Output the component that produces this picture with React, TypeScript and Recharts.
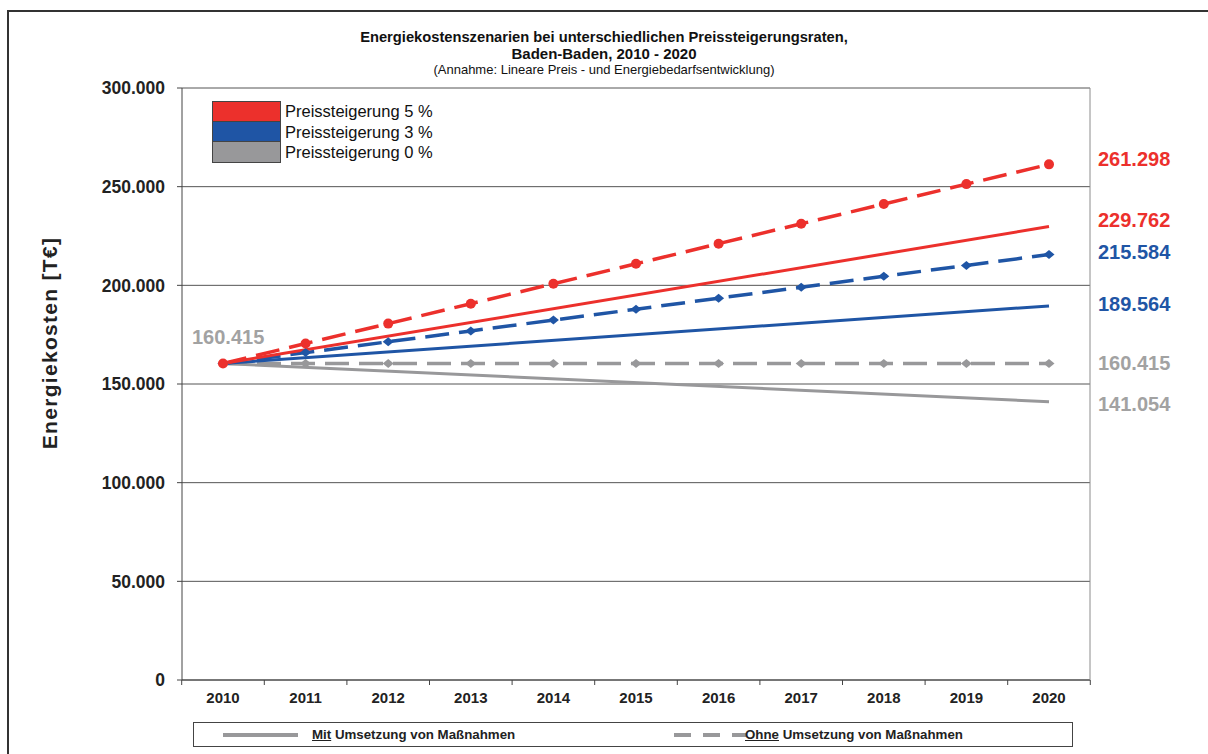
import { CartesianGrid, Line, LineChart, XAxis, YAxis } from "recharts";

const years = ["2010", "2011", "2012", "2013", "2014", "2015", "2016", "2017", "2018", "2019", "2020"];

// "Ohne Umsetzung von Maßnahmen" (dashed, with markers)
const ohne5 = [160415, 170500, 180600, 190700, 200800, 210900, 221100, 231200, 241200, 251300, 261298];
const ohne3 = [160415, 165900, 171400, 176900, 182400, 187900, 193500, 199000, 204600, 210100, 215584];
const ohne0 = [160415, 160415, 160415, 160415, 160415, 160415, 160415, 160415, 160415, 160415, 160415];

// "Mit Umsetzung von Maßnahmen" (solid, straight from start to end)
const mit5 = [160415, null, null, null, null, null, null, null, null, null, 229762];
const mit3 = [160415, null, null, null, null, null, null, null, null, null, 189564];
const mit0 = [160415, null, null, null, null, null, null, null, null, null, 141054];

const yTicks = [0, 50000, 100000, 150000, 200000, 250000, 300000];
const legendItems = [
  { name: "Preissteigerung 5 %", color: "#ec302c" },
  { name: "Preissteigerung 3 %", color: "#1f55a5" },
  { name: "Preissteigerung 0 %", color: "#98989a" },
];

const RED = "#ec302c";
const BLUE = "#1f55a5";
const GRAY = "#98989a";
const LABEL_GRAY = "#a2a2a2";
const FONT = "'Liberation Sans', Arial, sans-serif";

const data = years.map((year, i) => ({
  year,
  ohne5: ohne5[i],
  ohne3: ohne3[i],
  ohne0: ohne0[i],
  mit5: mit5[i],
  mit3: mit3[i],
  mit0: mit0[i],
}));

const fmt = (n: number) => String(Math.round(n)).replace(/\B(?=(\d{3})+(?!\d))/g, ".");

const HALF_BAND = 41.3;

function XTick(props: any) {
  const { x, y, payload, index } = props;
  const ay = y - 7;
  return (
    <g>
      <line x1={x - HALF_BAND} x2={x - HALF_BAND} y1={ay} y2={ay + 5} stroke="#444" />
      {index === years.length - 1 ? (
        <line x1={x + HALF_BAND} x2={x + HALF_BAND} y1={ay} y2={ay + 5} stroke="#444" />
      ) : null}
      <text x={x} y={ay + 23} textAnchor="middle" fontSize={15} fontWeight="bold" fill="#222" fontFamily={FONT}>
        {payload.value}
      </text>
    </g>
  );
}

function diamond(color: string) {
  return (p: any) => {
    const { cx, cy, index } = p;
    if (cx == null || cy == null) return <g key={`d-${index}`} />;
    return (
      <path
        key={`d-${index}`}
        d={`M${cx - 5.5},${cy} L${cx},${cy - 4.5} L${cx + 5.5},${cy} L${cx},${cy + 4.5} Z`}
        fill={color}
      />
    );
  };
}

function endLabel(color: string, dy: number, startLabel = false) {
  return (p: any) => {
    const { x, y, index, value } = p;
    if (value == null || y == null) return <g key={`l-${index}`} />;
    if (index === years.length - 1) {
      return (
        <text key={`l-${index}`} x={x + 49} y={y + dy} fontSize={20} fontWeight="bold" fill={color} fontFamily={FONT}>
          {fmt(value)}
        </text>
      );
    }
    if (startLabel && index === 0) {
      return (
        <text key={`l-${index}`} x={x - 31} y={y - 19} fontSize={20} fontWeight="bold" fill={color} fontFamily={FONT}>
          {fmt(value)}
        </text>
      );
    }
    return <g key={`l-${index}`} />;
  };
}

export default function App() {
  return (
    <div style={{ position: "absolute", left: 0, top: 0, width: 1208, height: 754, overflow: "hidden", background: "#fff", fontFamily: FONT }}>
      <div style={{ position: "absolute", left: 7, top: 10, width: 1300, height: 900, borderLeft: "2px solid #333", borderTop: "2px solid #333" }} />

      <div style={{ position: "absolute", left: 0, top: 28, width: 1208, textAlign: "center", color: "#111" }}>
        <div style={{ fontSize: 15, fontWeight: "bold", lineHeight: "17px", transform: "scaleX(0.98)" }}>
          Energiekostenszenarien bei unterschiedlichen Preissteigerungsraten,
        </div>
        <div style={{ fontSize: 15, fontWeight: "bold", lineHeight: "17px" }}>Baden-Baden, 2010 - 2020</div>
        <div style={{ fontSize: 13, lineHeight: "16px" }}>(Annahme: Lineare Preis - und Energiebedarfsentwicklung)</div>
      </div>

      <div style={{ position: "absolute", left: 0, top: 0 }}>
        <LineChart width={1208} height={754} data={data} margin={{ top: 88, right: 0, bottom: 0, left: 0 }}>
          <CartesianGrid vertical={false} stroke="#555" />
          <XAxis
            dataKey="year"
            height={74}
            padding={{ left: 41, right: 41 }}
            axisLine={{ stroke: "#444" }}
            tickLine={false}
            tickSize={5}
            tickMargin={2}
            tick={<XTick />}
            interval={0}
          />
          <YAxis
            width={182}
            domain={[0, 300000]}
            ticks={yTicks}
            interval={0}
            tickFormatter={(v: number) => fmt(v)}
            axisLine={{ stroke: "#444" }}
            tickLine={{ stroke: "#444" }}
            tickSize={5}
            tickMargin={12}
            tick={{ fontSize: 17.5, fontWeight: "bold", fill: "#222", fontFamily: FONT }}
          />
          <YAxis
            yAxisId="frame"
            orientation="right"
            width={118}
            domain={[0, 300000]}
            tick={false}
            tickLine={false}
            axisLine={{ stroke: "#8c8c8c" }}
          />

          <Line
            dataKey="mit0"
            stroke={GRAY}
            strokeWidth={3}
            dot={false}
            connectNulls
            isAnimationActive={false}
            label={endLabel(LABEL_GRAY, 9)}
          />
          <Line
            dataKey="ohne0"
            stroke={GRAY}
            strokeWidth={3.5}
            strokeDasharray="24 10"
            dot={diamond(GRAY)}
            isAnimationActive={false}
            label={endLabel(LABEL_GRAY, 7, true)}
          />
          <Line
            dataKey="mit3"
            stroke={BLUE}
            strokeWidth={3}
            dot={false}
            connectNulls
            isAnimationActive={false}
            label={endLabel(BLUE, 5)}
          />
          <Line
            dataKey="ohne3"
            stroke={BLUE}
            strokeWidth={3.5}
            strokeDasharray="24 10"
            dot={diamond(BLUE)}
            isAnimationActive={false}
            label={endLabel(BLUE, 4)}
          />
          <Line
            dataKey="mit5"
            stroke={RED}
            strokeWidth={3}
            dot={false}
            connectNulls
            isAnimationActive={false}
            label={endLabel(RED, 0)}
          />
          <Line
            dataKey="ohne5"
            stroke={RED}
            strokeWidth={3.5}
            strokeDasharray="24 10"
            dot={{ r: 5, fill: RED, stroke: "none" }}
            isAnimationActive={false}
            label={endLabel(RED, 2)}
          />
        </LineChart>
      </div>

      <div
        style={{
          position: "absolute",
          left: 30,
          top: 343,
          transform: "translate(-50%, -50%) rotate(-90deg)",
          fontSize: 21,
          letterSpacing: 1.3,
          fontWeight: "bold",
          color: "#222",
          whiteSpace: "nowrap",
          marginLeft: 20,
        }}
      >
        Energiekosten [T€]
      </div>

      <div style={{ position: "absolute", left: 212, top: 101 }}>
        {legendItems.map((item) => (
          <div key={item.name} style={{ display: "flex", alignItems: "center", height: 20.7 }}>
            <div style={{ width: 67, height: 19.7, background: item.color, border: "1px solid #444", borderTopWidth: item === legendItems[0] ? 1 : 0 }} />
            <span style={{ fontSize: 16.5, color: "#111", marginLeft: 4 }}>{item.name}</span>
          </div>
        ))}
      </div>

      <div
        style={{
          position: "absolute",
          left: 193,
          top: 722,
          width: 878,
          height: 23,
          border: "1.5px solid #444",
          fontSize: 13.3,
          fontWeight: "bold",
          color: "#222",
        }}
      >
        <svg style={{ position: "absolute", left: 0, top: 0 }} width={878} height={23}>
          <line x1={29} x2={104} y1={12} y2={12} stroke={GRAY} strokeWidth={4} />
          <line x1={480} x2={552} y1={12} y2={12} stroke={GRAY} strokeWidth={4} strokeDasharray="17 12" />
        </svg>
        <div style={{ position: "absolute", left: 118, top: 4 }}>
          <span style={{ textDecoration: "underline" }}>Mit</span> Umsetzung von Maßnahmen
        </div>
        <div style={{ position: "absolute", left: 551, top: 4 }}>
          <span style={{ textDecoration: "underline" }}>Ohne</span> Umsetzung von Maßnahmen
        </div>
      </div>
    </div>
  );
}
